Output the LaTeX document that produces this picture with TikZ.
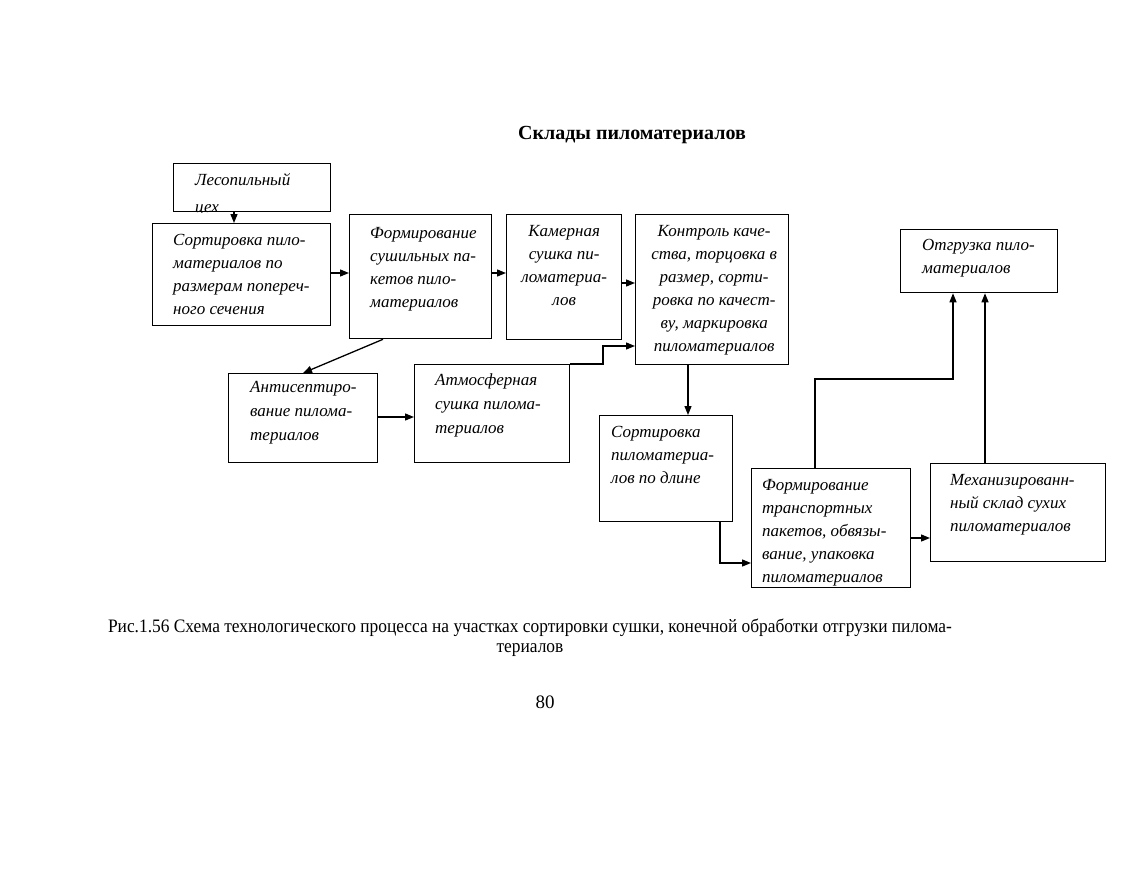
\documentclass[tikz,border=0pt]{standalone}
\usepackage{fontspec}
\setmainfont{Liberation Serif}
\newfontfamily\capfont[FakeStretch=0.915]{Liberation Serif}
\usetikzlibrary{arrows.meta,calc}
\begin{document}
\begin{tikzpicture}[x=1pt,y=-1pt,
  box/.style={draw,line width=1.3pt,inner sep=0pt,anchor=north west},
  txt/.style={inner sep=0pt,anchor=north west,align=left,font=\fontsize{17}{23}\selectfont\itshape},
  ctxt/.style={txt,anchor=north,align=center},
  arr/.style={line width=1.3pt,-{Triangle[length=9pt,width=7pt]}},
  ln/.style={line width=1.3pt}]
\useasboundingbox (0,0) rectangle (1139,880);
% title
\node[font=\fontsize{20}{24}\selectfont\bfseries] (title) at (632,135) {Склады пиломатериалов};
% boxes
\node[box,minimum width=157pt,minimum height=48pt] (les) at (173,163) {};
\node[box,minimum width=178pt,minimum height=102pt] (sort1) at (152,223) {};
\node[box,minimum width=142pt,minimum height=124pt] (form1) at (349,214) {};
\node[box,minimum width=115pt,minimum height=125pt] (kam) at (506,214) {};
\node[box,minimum width=153pt,minimum height=150pt] (kontr) at (635,214) {};
\node[box,minimum width=157pt,minimum height=63pt] (otgr) at (900,229) {};
\node[box,minimum width=149pt,minimum height=89pt] (anti) at (228,373) {};
\node[box,minimum width=155pt,minimum height=98pt] (atm) at (414,364) {};
\node[box,minimum width=133pt,minimum height=106pt] (sort2) at (599,415) {};
\node[box,minimum width=159pt,minimum height=119pt] (form2) at (751,468) {};
\node[box,minimum width=175pt,minimum height=98pt] (mech) at (930,463) {};
% texts
\begin{scope}
\clip (les.north west) rectangle (les.south east);
\node[txt] (tles) at ($(les.north west)+(22,6)$) {\strut Лесопильный\\[4pt]цех};
\end{scope}
\node[txt] (tsort1) at ($(sort1.north west)+(21,6)$) {\strut Сортировка пило-\\материалов по\\размерам попереч-\\ного сечения};
\node[txt] (tform1) at ($(form1.north west)+(21,8)$) {\strut Формирование\\сушильных па-\\кетов пило-\\материалов};
\node[ctxt] (tkam) at ($(kam.north)+(0,6)$) {\strut Камерная\\сушка пи-\\ломатериа-\\лов};
\node[ctxt] (tkontr) at ($(kontr.north)+(2,6)$) {\strut Контроль каче-\\ства, торцовка в\\размер, сорти-\\ровка по качест-\\ву, маркировка\\пиломатериалов};
\node[txt] (totgr) at ($(otgr.north west)+(22,5)$) {\strut Отгрузка пило-\\материалов};
\node[txt] (tanti) at ($(anti.north west)+(22,3)$) {\strut Антисептиро-\\[1pt]вание пилома-\\[1pt]териалов};
\node[txt] (tatm) at ($(atm.north west)+(21,5)$) {\strut Атмосферная\\[1pt]сушка пилома-\\[1pt]териалов};
\node[txt] (tsort2) at ($(sort2.north west)+(12,6)$) {\strut Сортировка\\пиломатериа-\\лов по длине};
\begin{scope}
\clip (form2.north west) rectangle (form2.south east);
\node[txt] (tform2) at ($(form2.north west)+(11,6)$) {\strut Формирование\\транспортных\\пакетов, обвязы-\\вание, упаковка\\пиломатериалов};
\end{scope}
\node[txt] (tmech) at ($(mech.north west)+(20,6)$) {\strut Механизированн-\\ный склад сухих\\пиломатериалов};
% connectors
\draw[arr] (les.south -| 234,0) -- (sort1.north -| 234,0);
\draw[arr] (sort1.east |- 0,273) -- (form1.west |- 0,273);
\draw[arr] (form1.east |- 0,273) -- (kam.west |- 0,273);
\draw[arr] (kam.east |- 0,283) -- (kontr.west |- 0,283);
\draw[arr] (form1.south -| 383,0) -- (anti.north -| 303,0);
\draw[arr] (anti.east |- 0,417) -- (atm.west |- 0,417);
\coordinate (c1) at (603,364);
\coordinate (c2) at (603,346);
\draw[arr] (atm.north east) -- (c1) -- (c2) -- (kontr.west |- c2);
\draw[arr] (kontr.south -| 688,0) -- (sort2.north -| 688,0);
\coordinate (c3) at (720,563);
\draw[arr] (sort2.south -| c3) -- (c3) -- (form2.west |- c3);
\draw[arr] (form2.east |- 0,538) -- (mech.west |- 0,538);
\coordinate (c4) at (815,379);
\coordinate (c5) at (953,379);
\draw[arr] (form2.north -| c4) -- (c4) -- (c5) -- (otgr.south -| c5);
\draw[arr] (mech.north -| 985,0) -- (otgr.south -| 985,0);
% caption
\node[font=\capfont\fontsize{19}{20}\selectfont,align=center] (cap) at (530,638) {Рис.1.56 Схема технологического процесса на участках сортировки сушки, конечной обработки отгрузки пилома-\\териалов};
\node[font=\fontsize{19}{20}\selectfont] (page) at (545,702) {80};
\end{tikzpicture}
\end{document}
